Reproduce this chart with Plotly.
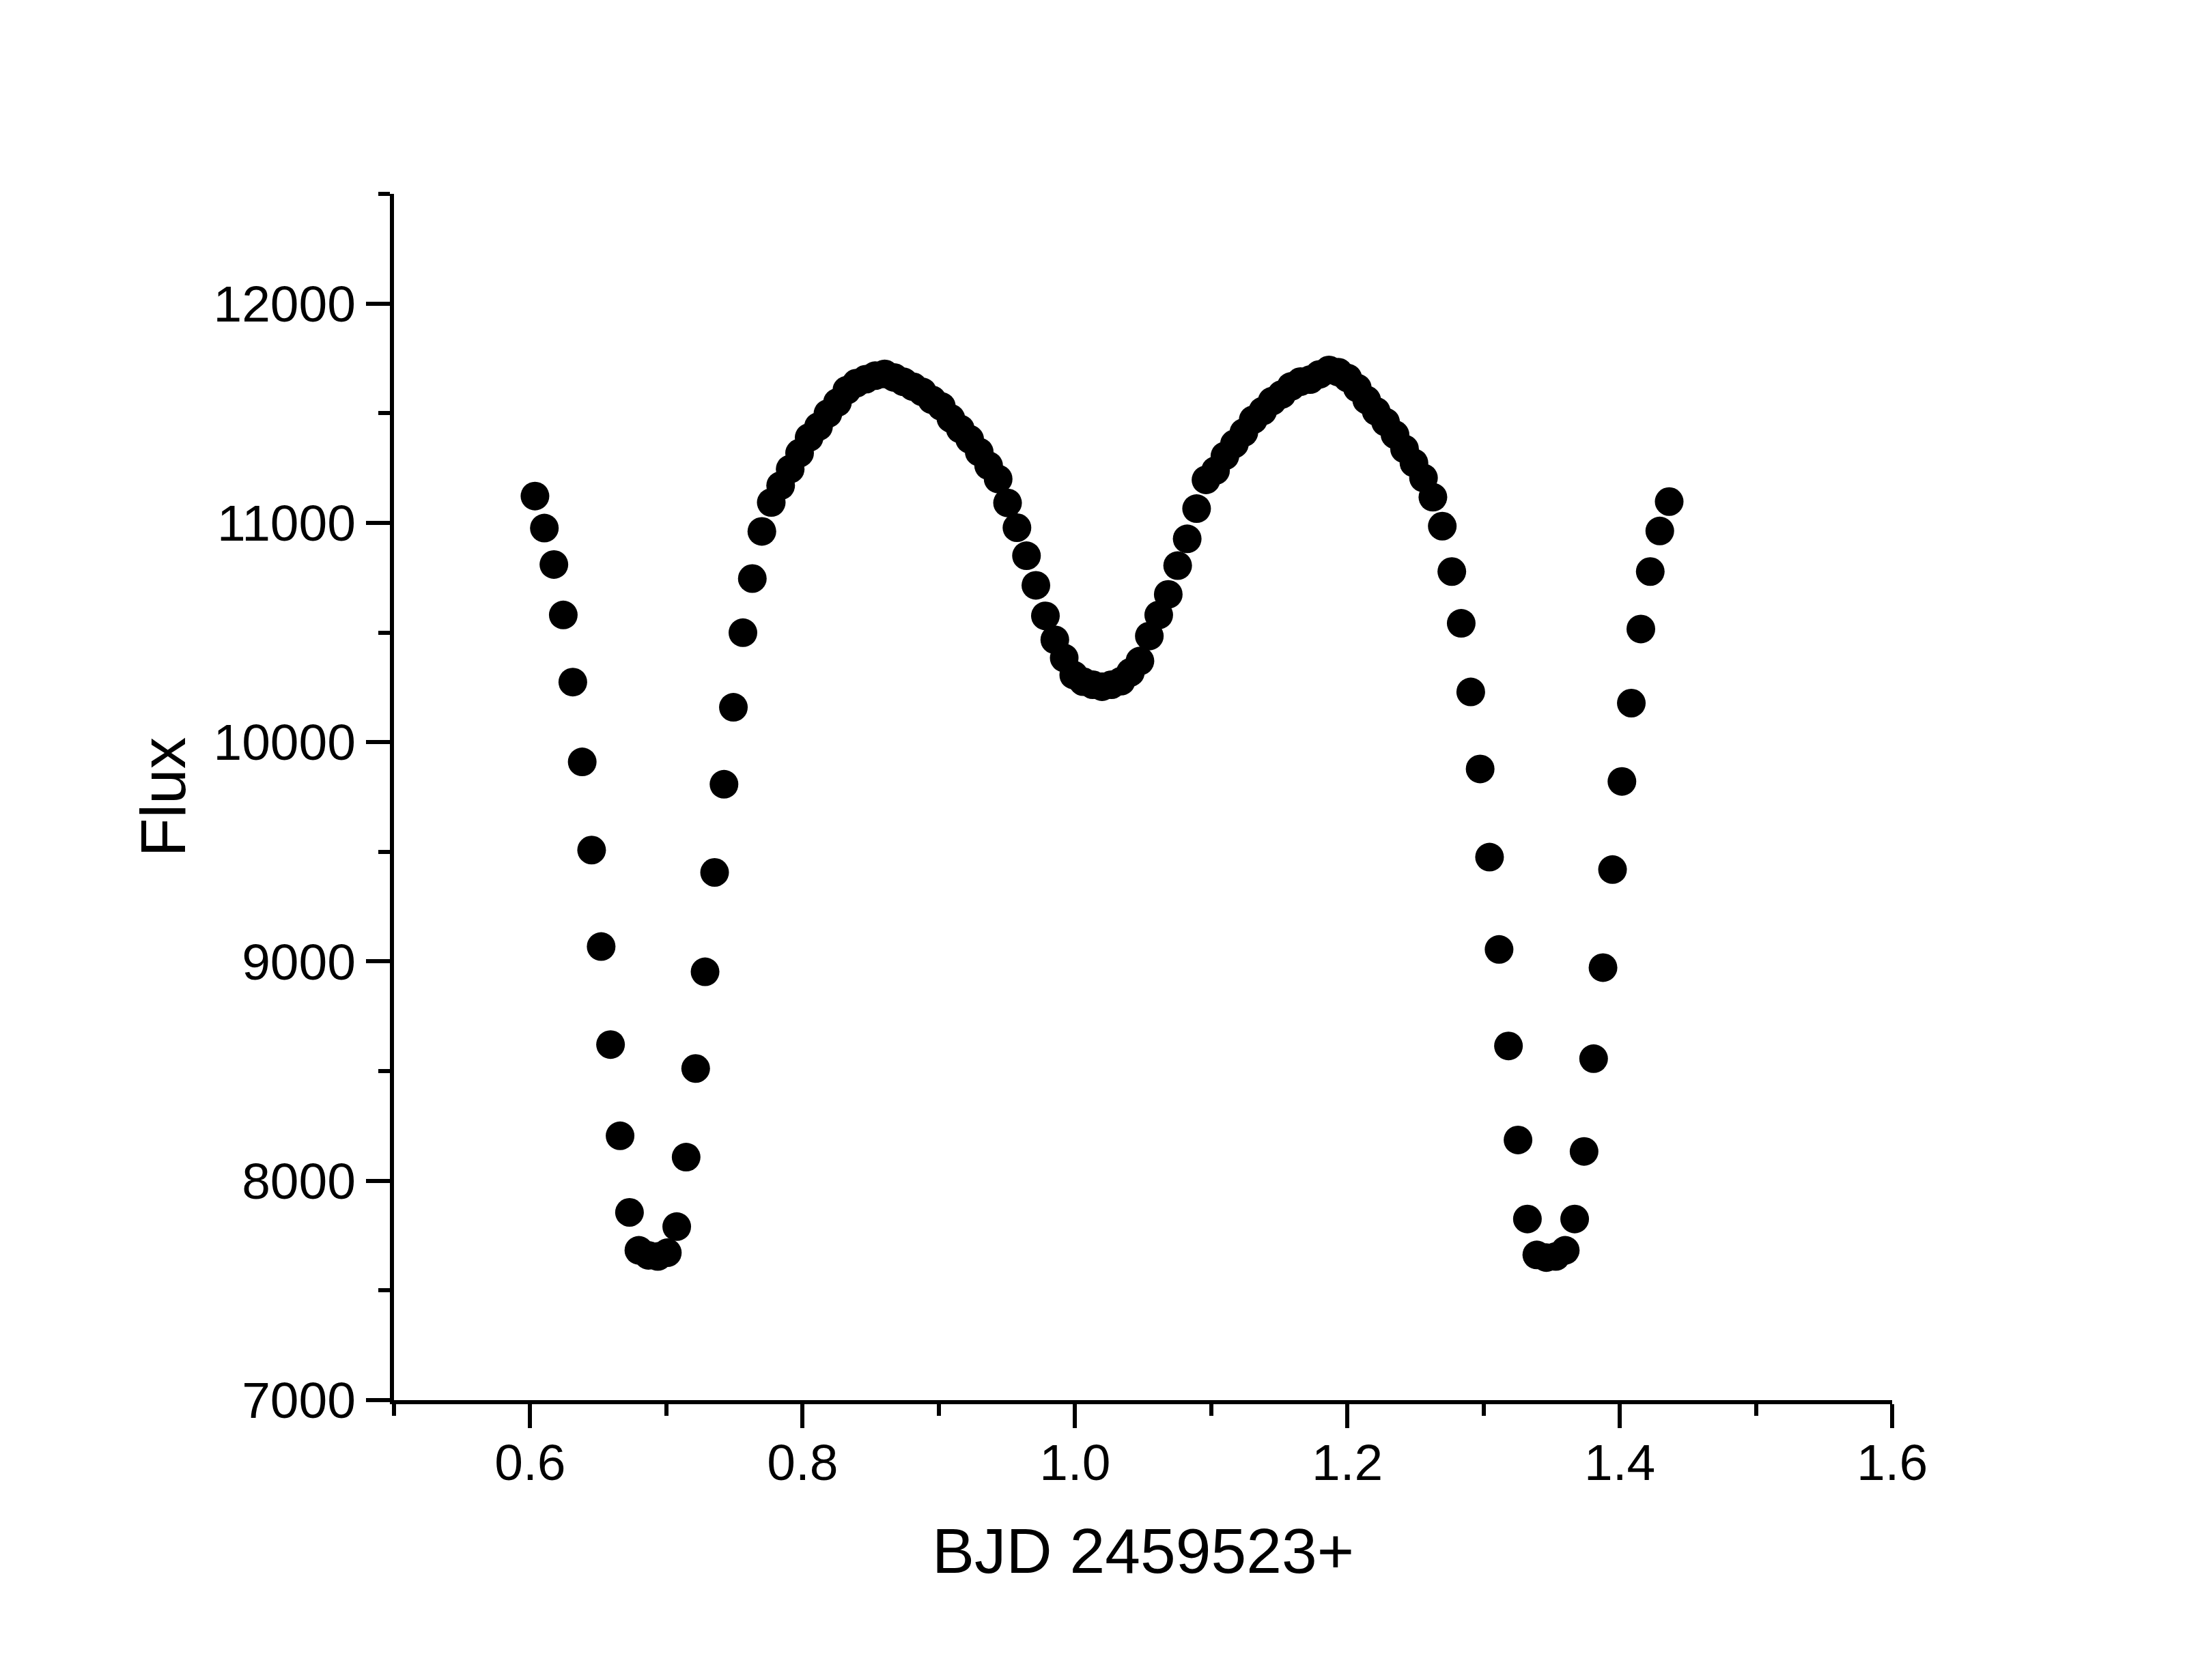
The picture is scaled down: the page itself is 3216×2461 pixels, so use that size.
import plotly.graph_objects as go

bjd = [0.6035, 0.6104, 0.6174, 0.6243, 0.6313, 0.6382, 0.6451, 0.6521, 0.6590, 0.6660,
       0.6729, 0.6798, 0.6868, 0.6937, 0.7007, 0.7076, 0.7145, 0.7215, 0.7284, 0.7354,
       0.7423, 0.7492, 0.7562, 0.7631, 0.7701, 0.7770, 0.7839, 0.7909, 0.7978, 0.8048,
       0.8117, 0.8186, 0.8256, 0.8325, 0.8395, 0.8464, 0.8533, 0.8603, 0.8672, 0.8742,
       0.8811, 0.8880, 0.8950, 0.9019, 0.9089, 0.9158, 0.9227, 0.9297, 0.9366, 0.9436,
       0.9505, 0.9574, 0.9644, 0.9713, 0.9783, 0.9852, 0.9921, 0.9991, 1.0060, 1.0130,
       1.0199, 1.0268, 1.0338, 1.0407, 1.0477, 1.0546, 1.0615, 1.0685, 1.0754, 1.0824,
       1.0893, 1.0962, 1.1032, 1.1101, 1.1171, 1.1240, 1.1309, 1.1379, 1.1448, 1.1518,
       1.1587, 1.1656, 1.1726, 1.1795, 1.1865, 1.1934, 1.2003, 1.2073, 1.2142, 1.2212,
       1.2281, 1.2350, 1.2420, 1.2489, 1.2559, 1.2628, 1.2697, 1.2767, 1.2836, 1.2906,
       1.2975, 1.3044, 1.3114, 1.3183, 1.3253, 1.3322, 1.3391, 1.3461, 1.3530, 1.3600,
       1.3669, 1.3738, 1.3808, 1.3877, 1.3947, 1.4016, 1.4085, 1.4155, 1.4224, 1.4294,
       1.4363]

flux = [11122, 10976, 10810, 10580, 10274, 9910, 9508, 9068, 8621, 8205,
        7856, 7683, 7660, 7655, 7672, 7791, 8108, 8512, 8953, 9406,
        9808, 10159, 10499, 10746, 10961, 11093, 11170, 11245, 11318, 11389,
        11439, 11498, 11549, 11605, 11637, 11655, 11671, 11679, 11663, 11643,
        11621, 11597, 11561, 11531, 11476, 11428, 11381, 11323, 11261, 11200,
        11091, 10978, 10850, 10715, 10576, 10467, 10384, 10306, 10276, 10262,
        10253, 10262, 10278, 10318, 10370, 10484, 10580, 10674, 10805, 10927,
        11065, 11196, 11238, 11305, 11360, 11412, 11470, 11510, 11555, 11585,
        11622, 11644, 11653, 11677, 11697, 11687, 11660, 11615, 11560, 11508,
        11459, 11402, 11337, 11273, 11205, 11117, 10985, 10778, 10542, 10229,
        9878, 9476, 9055, 8615, 8186, 7826, 7662, 7650, 7655, 7683,
        7826, 8134, 8557, 8972, 9419, 9821, 10178, 10516, 10778, 10963,
        11097]

x_title = "BJD 2459523+"
y_title = "Flux"

FONT = "Liberation Sans, Arial, sans-serif"

fig = go.Figure()
fig.add_trace(go.Scatter(
    x=bjd, y=flux, mode="markers",
    marker=dict(size=42, color="black", line=dict(width=0)),
    showlegend=False,
))

axis_common = dict(
    showline=True, linewidth=6, linecolor="black",
    ticks="outside", ticklen=35, tickwidth=6, tickcolor="black",
    showgrid=False, zeroline=False, mirror=False,
    tickfont=dict(family=FONT, size=75, color="black"),
)

fig.update_xaxes(
    range=[0.5, 1.6], tick0=0, dtick=0.2, tickformat=".1f",
    ticklabelstandoff=-14,
    minor=dict(dtick=0.1, tick0=0, ticks="outside", ticklen=17, tickwidth=6, tickcolor="black", showgrid=False),
    title=dict(text=x_title, font=dict(family=FONT, size=93, color="black"), standoff=58),
    **axis_common,
)
fig.update_yaxes(
    range=[7000, 12500], tick0=0, dtick=1000, tickformat="d",
    minor=dict(dtick=500, tick0=0, ticks="outside", ticklen=17, tickwidth=6, tickcolor="black", showgrid=False),
    title=dict(text=y_title, font=dict(family=FONT, size=93, color="black"), standoff=12),
    **axis_common,
)

fig.update_layout(
    width=3216, height=2461,
    margin=dict(l=569, r=453, t=276, b=418, autoexpand=False),
    paper_bgcolor="white", plot_bgcolor="white",
    font=dict(family=FONT, color="black"),
)
fig.update_xaxes(automargin=False)
fig.update_yaxes(automargin=False)

fig.write_html("out.html")
